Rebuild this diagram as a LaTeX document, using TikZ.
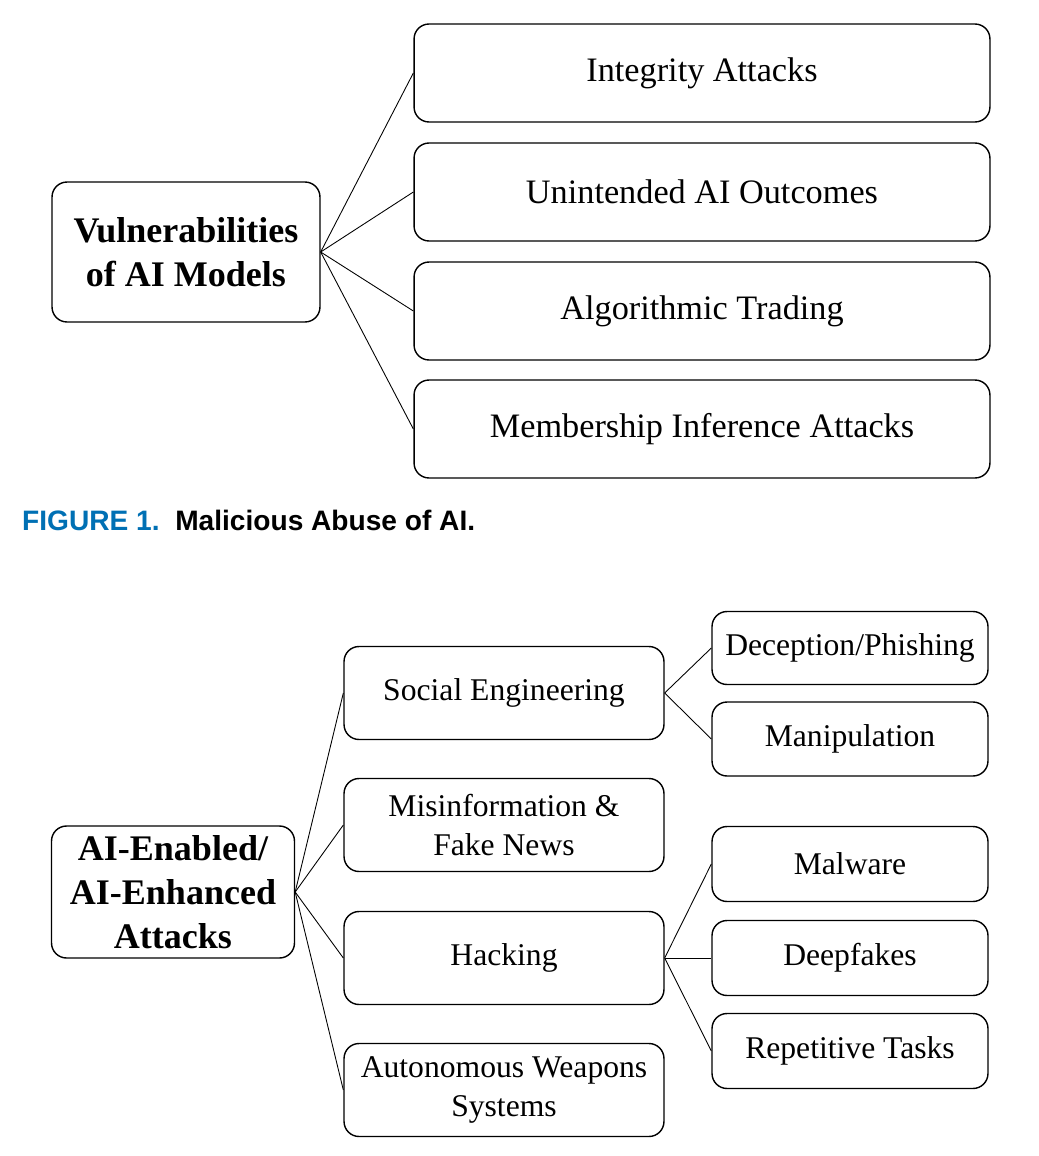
\documentclass[tikz,border=0pt]{standalone}
\usepackage{fontspec}
\setmainfont{Liberation Serif}
\newfontfamily\capfont{Liberation Sans}
\usetikzlibrary{positioning}
\definecolor{capblue}{RGB}{0,112,180}
\tikzset{
  box/.style={draw, rounded corners=0.3cm, line width=0.8pt, align=center, inner sep=0pt, font=\fontsize{18}{22}\selectfont},
  bigbox/.style={box, font=\fontsize{19.5}{24}\selectfont},
  root/.style={box, font=\bfseries\fontsize{20.5}{25}\selectfont},
  link/.style={line width=0.5pt}
}
\begin{document}
\begin{tikzpicture}[x=0.02cm,y=-0.02cm]
        \useasboundingbox (0,0) rectangle (1038,1156);

        % figure 1
        \node[root, minimum width=5.36cm, minimum height=2.8cm] (vuln) at (186,252) {Vulnerabilities\\of AI Models};
        \node[bigbox, minimum width=11.52cm, minimum height=1.96cm] (integ) at (702,73) {Integrity Attacks};
        \node[bigbox, minimum width=11.52cm, minimum height=1.96cm] (unint) at (702,192) {Unintended AI Outcomes};
        \node[bigbox, minimum width=11.52cm, minimum height=1.96cm] (algo) at (702,311) {Algorithmic Trading};
        \node[bigbox, minimum width=11.52cm, minimum height=1.96cm] (member) at (702,429) {Membership Inference Attacks};

        \foreach \to in {integ,unint,algo,member}
        \draw[link] (vuln.east)--(\to.west);

        \node[anchor=west, font=\capfont\bfseries\fontsize{16}{19}\selectfont] (caption) at (16,520) {\textcolor{capblue}{FIGURE 1.}\ \ Malicious Abuse of AI.};

        % figure 2
        \node[root, minimum width=4.86cm, minimum height=2.64cm] (attacks) at (173,892) {AI-Enabled/\\AI-Enhanced\\Attacks};
        \node[box, minimum width=6.4cm, minimum height=1.86cm] (social) at (504,693) {Social Engineering};
        \node[box, minimum width=6.4cm, minimum height=1.86cm] (misinfo) at (504,825) {Misinformation \&\\Fake News};
        \node[box, minimum width=6.4cm, minimum height=1.86cm] (hacking) at (504,958) {Hacking};
        \node[box, minimum width=6.4cm, minimum height=1.86cm] (weapons) at (504,1090) {Autonomous Weapons\\Systems};

        \node[box, minimum width=5.52cm, minimum height=1.46cm] (phish) at (850,648) {Deception/Phishing};
        \node[box, minimum width=5.52cm, minimum height=1.48cm] (manip) at (850,739) {Manipulation};
        \node[box, minimum width=5.52cm, minimum height=1.5cm] (malware) at (850,864) {Malware};
        \node[box, minimum width=5.52cm, minimum height=1.5cm] (deepfake) at (850,958) {Deepfakes};
        \node[box, minimum width=5.52cm, minimum height=1.5cm] (repeat) at (850,1051) {Repetitive Tasks};

        \foreach \from/\to in {attacks/social,attacks/misinfo,attacks/hacking,attacks/weapons,social/phish,social/manip,hacking/malware,hacking/deepfake,hacking/repeat}
        \draw[link] (\from.east)--(\to.west);
\end{tikzpicture}
\end{document}
